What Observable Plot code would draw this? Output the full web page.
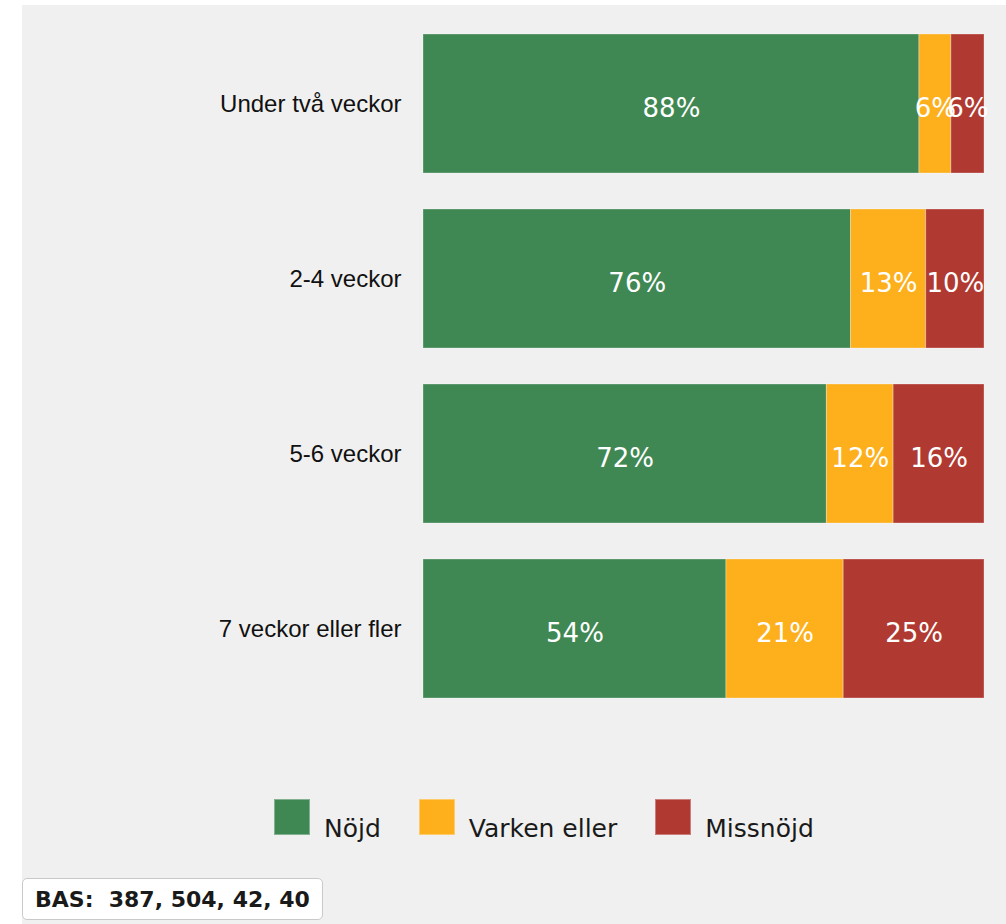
<!DOCTYPE html>
<html>
<head>
<meta charset="utf-8">
<script src="https://cdn.jsdelivr.net/npm/d3@7"></script>
<script src="https://cdn.jsdelivr.net/npm/@observablehq/plot@0.6"></script>
<style>
  html, body { margin: 0; padding: 0; background: #ffffff; }
  #wrap { position: absolute; left: 22px; top: 5px; width: 984px; height: 919px; background: #f0f0f0; overflow: hidden; }
  #chart { position: absolute; left: 0; top: 0; }
  #legend { position: absolute; left: 252px; top: 794px; display: flex; align-items: flex-start; font-family: "DejaVu Sans", Verdana, sans-serif; font-size: 25px; color: #1a1a1a; }
  #legend .item { display: flex; align-items: flex-start; margin-right: 38px; }
  #legend .sw { width: 36px; height: 36px; box-sizing: border-box; border: 1px solid rgba(255,255,255,0.35); }
  #legend .lab { margin-left: 14px; margin-top: 17px; line-height: 25px; white-space: nowrap; }
  #bas { position: absolute; left: 0; top: 873px; width: 301px; height: 42px; box-sizing: border-box; background: #ffffff; border: 1px solid #c9c9c9; border-radius: 5px; display: flex; align-items: center; padding-left: 12px; font-family: "DejaVu Sans", Verdana, sans-serif; font-weight: bold; font-size: 22px; color: #1a1a1a; white-space: pre; }
</style>
</head>
<body>
<div id="wrap">
  <div id="chart"></div>
  <div id="legend"></div>
  <div id="bas"></div>
</div>
<script>
const categories = ["Under två veckor", "2-4 veckor", "5-6 veckor", "7 veckor eller fler"];
const responses = ["Nöjd", "Varken eller", "Missnöjd"];
const colors = ["#3f8853", "#fdaf1c", "#b03a32"];
const nojd = [88.4, 76.2, 71.9, 54.0];
const varken = [5.7, 13.4, 11.9, 20.9];
const missnojd = [5.9, 10.4, 16.2, 25.1];
const bases = [387, 504, 42, 40];

const series = [nojd, varken, missnojd];
const data = [];
categories.forEach((c, i) => {
  responses.forEach((r, j) => {
    data.push({cat: c, resp: r, value: series[j][i]});
  });
});

const plot = Plot.plot({
  width: 984,
  height: 760,
  marginTop: 29,
  marginBottom: 67,
  marginLeft: 401,
  marginRight: 22,
  style: {background: "transparent", fontFamily: "'Liberation Sans', Arial, sans-serif", color: "#111"},
  x: {domain: [0, 100], axis: null},
  y: {domain: categories, paddingInner: 0.206, paddingOuter: 0, label: null},
  color: {domain: responses, range: colors},
  marks: [
    Plot.barX(data, {x: "value", y: "cat", fill: "resp", stroke: "white", strokeOpacity: 0.3, strokeWidth: 1}),
    Plot.text(data, Plot.stackX({
      x: "value", y: "cat", z: "resp",
      text: d => Math.round(d.value) + "%",
      fill: "white", fontSize: 26, fontFamily: "'DejaVu Sans', Verdana, sans-serif", dy: 5
    })),
    Plot.axisY({tickSize: 0, tickPadding: 22, fontSize: 24, label: null})
  ]
});
document.getElementById("chart").appendChild(plot);

const legend = document.getElementById("legend");
responses.forEach((r, j) => {
  const item = document.createElement("div");
  item.className = "item";
  const sw = document.createElement("div");
  sw.className = "sw";
  sw.style.background = colors[j];
  const lab = document.createElement("div");
  lab.className = "lab";
  lab.textContent = r;
  item.appendChild(sw);
  item.appendChild(lab);
  legend.appendChild(item);
});

document.getElementById("bas").textContent = "BAS:  " + bases.join(", ");
</script>
</body>
</html>
